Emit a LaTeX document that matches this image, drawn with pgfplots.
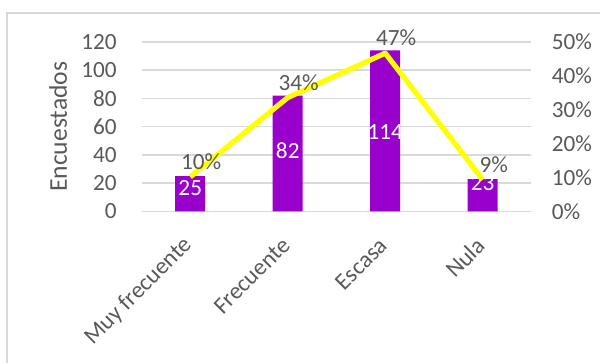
\documentclass[border=0pt]{standalone}
\usepackage{pgfplots}
\pgfplotsset{compat=1.18}
\usepackage{fontspec}
\setmainfont{Carlito}
\definecolor{barc}{HTML}{9900CC}
\definecolor{txt}{HTML}{595959}
\definecolor{grd}{HTML}{D9D9D9}
\definecolor{lin}{HTML}{FFFF00}
\begin{document}
\begin{tikzpicture}
\useasboundingbox (0,0) rectangle (300pt,181.5pt);
\clip (0,0) rectangle (300pt,181.5pt);
\draw[grd, line width=0.75pt] (3.5pt,-20pt) rectangle (330pt,175pt);
\pgfplotsset{
 base/.style={
  at={(70.75pt,75.75pt)}, anchor=south west,
  scale only axis, width=195pt, height=84.75pt,
  xmin=-0.5, xmax=3.5,
  font=\fontsize{11.6}{13}\selectfont,
  tick label style={font=\fontsize{11.6}{13}\selectfont, text=txt},
  /pgf/number format/assume math mode=true,
  major tick length=0pt,
  axis line style={draw=none},
 }
}
\begin{axis}[base,
  ymin=0, ymax=120, ytick={0,20,40,60,80,100,120},
  ymajorgrids, grid style={grd, line width=0.75pt},
  xtick={0,1,2,3}, xticklabels={Muy frecuente, Frecuente, Escasa, Nula},
  xticklabel style={inner sep=0pt, anchor=east, xshift=-0.7pt, yshift=-15pt, rotate=45, font=\fontsize{11.8}{13}\selectfont},
  yticklabel style={inner sep=0pt, anchor=east, xshift=-12.25pt},
  ylabel={Encuestados},
  every axis y label/.style={at={(axis description cs:-0.214,0.5)}, rotate=90, anchor=center, text=txt, font=\fontsize{12.8}{14}\selectfont},
]
\addplot[ybar, bar width=15pt, fill=barc, draw=none] coordinates {(0,25) (1,82) (2,114) (3,23)};
\addplot[only marks, mark=text, text mark={}, nodes near coords, point meta=explicit symbolic,
  nodes near coords style={text=white, anchor=center, inner sep=0pt, font=\fontsize{11.6}{13}\selectfont}]
  coordinates {(0,16.6)[25] (1,42.8)[82] (2,56.5)[114] (3,20.2)[23]};
\end{axis}
\begin{axis}[base,
  ymin=0, ymax=0.5, ytick={0,0.1,0.2,0.3,0.4,0.5},
  axis y line*=right, axis x line=none,
  yticklabel style={inner sep=0pt, anchor=west, xshift=10pt},
  yticklabel={\pgfmathparse{\tick*100}\pgfmathprintnumber[fixed,precision=0]{\pgfmathresult}\%},
]
\addplot[lin, line width=2.6pt, line join=round, mark=none, nodes near coords, point meta=explicit symbolic,
  nodes near coords style={text=txt, anchor=center, inner sep=0pt, xshift=5.5pt, yshift=7.5pt, font=\fontsize{11.6}{13}\selectfont}]
  coordinates {(0,0.102)[10\%] (1,0.336)[34\%] (2,0.467)[47\%] (3,0.094)[9\%]};
\end{axis}
\end{tikzpicture}
\end{document}
